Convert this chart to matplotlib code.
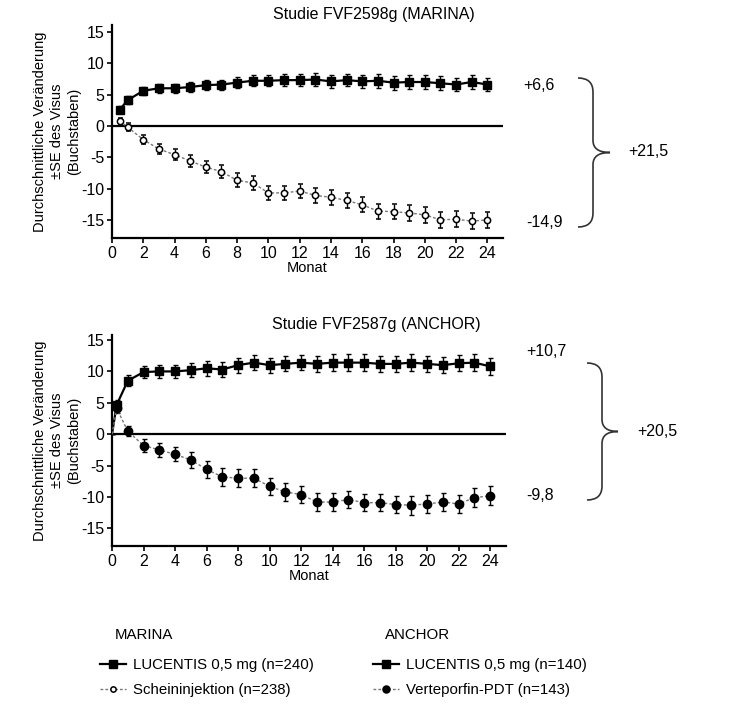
import numpy as np
import matplotlib.pyplot as plt
from matplotlib.path import Path
from matplotlib.patches import PathPatch
import matplotlib.transforms as mtransforms

plt.rcParams['font.family'] = ['Liberation Sans', 'DejaVu Sans']
plt.rcParams['axes.unicode_minus'] = False

# MARINA data (months, mean change in letters, SE)
marina_months = [0.5, 1] + list(range(2, 25))
marina_luc = [2.6, 4.1, 5.6, 6.0, 6.0, 6.2, 6.5, 6.6, 6.9, 7.2, 7.2, 7.3, 7.3,
              7.4, 7.1, 7.3, 7.1, 7.2, 6.9, 7.0, 7.0, 6.8, 6.6, 7.0, 6.6]
marina_luc_se = [0.5, 0.6, 0.6, 0.7, 0.7, 0.8, 0.8, 0.8, 0.9, 0.9, 0.9, 1.0, 1.0,
                 1.0, 1.0, 1.0, 1.0, 1.1, 1.1, 1.1, 1.1, 1.1, 1.1, 1.1, 1.1]
marina_sham = [0.8, -0.2, -2.2, -3.7, -4.6, -5.6, -6.6, -7.3, -8.7, -9.1, -10.7, -10.7, -10.4,
               -11.1, -11.4, -11.9, -12.6, -13.6, -13.7, -13.9, -14.2, -15.0, -14.9, -15.2, -15.0]
marina_sham_se = [0.5, 0.6, 0.7, 0.8, 0.9, 0.9, 1.0, 1.0, 1.1, 1.1, 1.1, 1.1, 1.1,
                  1.2, 1.2, 1.2, 1.2, 1.2, 1.2, 1.3, 1.3, 1.3, 1.3, 1.3, 1.3]

# ANCHOR data (starts at baseline 0)
anchor_months = [0, 0.3, 1] + list(range(2, 25))
anchor_luc = [0, 4.7, 8.5, 9.9, 10.0, 10.0, 10.2, 10.5, 10.3, 11.0, 11.4, 11.0, 11.2, 11.4,
              11.2, 11.4, 11.4, 11.4, 11.2, 11.2, 11.4, 11.2, 11.0, 11.3, 11.4, 10.8]
anchor_luc_se = [0, 0.8, 0.9, 1.0, 1.1, 1.1, 1.1, 1.2, 1.2, 1.2, 1.2, 1.2, 1.2, 1.2,
                 1.3, 1.3, 1.3, 1.3, 1.3, 1.3, 1.3, 1.3, 1.3, 1.3, 1.3, 1.4]
anchor_pdt = [0, 4.1, 0.5, -1.8, -2.5, -3.2, -4.1, -5.6, -6.8, -7.0, -7.0, -8.3, -9.2, -9.6,
              -10.8, -10.8, -10.4, -10.9, -10.9, -11.2, -11.3, -11.1, -10.8, -11.1, -10.1, -9.8]
anchor_pdt_se = [0, 0.7, 0.8, 1.0, 1.1, 1.1, 1.2, 1.3, 1.4, 1.4, 1.4, 1.4, 1.4, 1.4,
                 1.4, 1.4, 1.4, 1.4, 1.4, 1.4, 1.5, 1.5, 1.5, 1.5, 1.5, 1.5]

W, H = 733, 707
fig = plt.figure(figsize=(W / 100, H / 100), dpi=100)

# pixel coords (origin top-left) -> figure
px = mtransforms.Affine2D().scale(1 / W, -1 / H).translate(0, 1) + fig.transFigure

ax1 = fig.add_axes([112 / W, 1 - 238 / H, 391 / W, 213 / H])
ax2 = fig.add_axes([112 / W, 1 - 546 / H, 394 / W, 211 / H])

ylabel = 'Durchschnittliche Veränderung\n±SE des Visus\n(Buchstaben)'


def style_axes(ax, title, ylim):
    ax.axhline(0, color='black', lw=1.6, zorder=1)
    ax.set_xlim(0, 25)
    ax.set_ylim(*ylim)
    ax.set_xticks(range(0, 25, 2))
    ax.set_yticks([-15, -10, -5, 0, 5, 10, 15])
    ax.spines['top'].set_visible(False)
    ax.spines['right'].set_visible(False)
    for s in ('left', 'bottom'):
        ax.spines[s].set_linewidth(1.6)
    ax.tick_params(axis='both', labelsize=11.5, length=3.5, width=1.2, pad=2)
    ax.set_xlabel('Monat', fontsize=10.5, labelpad=0)
    ax.set_ylabel(ylabel, fontsize=10.5, linespacing=1.3)
    ax.yaxis.set_label_coords(-0.078, 0.5)
    ax.set_title(title, fontsize=11.5, loc='center', x=0.67, pad=4)


luc_kw = dict(color='black', lw=1.6, marker='s', ms=6.3, ecolor='black',
              elinewidth=1, capsize=1.8, capthick=1, zorder=3)

# MARINA
m_luc = ax1.errorbar(marina_months, marina_luc, yerr=marina_luc_se, **luc_kw)
m_sham = ax1.errorbar(marina_months, marina_sham, yerr=marina_sham_se,
                      color='#777777', lw=1, ls=(0, (2, 1.5)), marker='o', ms=4.5,
                      mfc='white', mec='black', mew=1.1, ecolor='black',
                      elinewidth=1, capsize=1.8, capthick=1, zorder=3)
style_axes(ax1, 'Studie FVF2598g (MARINA)', (-17.9, 16.1))

# ANCHOR
a_luc = ax2.errorbar(anchor_months, anchor_luc, yerr=anchor_luc_se,
                     markevery=slice(1, None), **luc_kw)
a_pdt = ax2.errorbar(anchor_months, anchor_pdt, yerr=anchor_pdt_se,
                     color='#777777', lw=1, ls=(0, (2, 1.5)), marker='o', ms=6,
                     mfc='black', mec='black', ecolor='black', markevery=slice(1, None),
                     elinewidth=1, capsize=1.8, capthick=1, zorder=3)
style_axes(ax2, 'Studie FVF2587g (ANCHOR)', (-17.8, 15.8))

# end values
ax1.text(26.3, 6.5, '+6,6', fontsize=11.5, va='center', clip_on=False)
ax1.text(26.5, -15.5, '-14,9', fontsize=11.5, va='center', clip_on=False)
ax2.text(26.3, 13.1, '+10,7', fontsize=11.5, va='center', clip_on=False)
ax2.text(26.3, -9.7, '-9,8', fontsize=11.5, va='center', clip_on=False)


def brace(x0, xv, xt, ytop, ybot, lw=1.2):
    ym = (ytop + ybot) / 2
    r = 14
    verts = [(x0, ytop), (xv, ytop), (xv, ytop + r),
             (xv, ym - 12), (xv, ym), (xt, ym),
             (xv, ym), (xv, ym + 12),
             (xv, ybot - r), (xv, ybot), (x0, ybot)]
    codes = [Path.MOVETO, Path.CURVE3, Path.CURVE3,
             Path.LINETO, Path.CURVE3, Path.CURVE3,
             Path.CURVE3, Path.CURVE3,
             Path.LINETO, Path.CURVE3, Path.CURVE3]
    fig.add_artist(PathPatch(Path(verts, codes), transform=px, fill=False,
                             lw=lw, edgecolor='#333333'))


brace(578, 593, 610, 78, 227)
brace(587, 602, 618, 363, 500)
fig.text(628 / W, 1 - 152 / H, '+21,5', fontsize=11.5, va='center')
fig.text(637 / W, 1 - 432 / H, '+20,5', fontsize=11.5, va='center')

# legends
fig.text(115 / W, 1 - 635 / H, 'MARINA', fontsize=10.8, va='center')
fig.text(385 / W, 1 - 635 / H, 'ANCHOR', fontsize=10.8, va='center')
leg_kw = dict(loc='upper left', frameon=False, fontsize=10.8, handlelength=1.7,
              handletextpad=0.5, labelspacing=0.75, borderpad=0, borderaxespad=0,
              markerscale=0.85)
fig.legend([m_luc[0], m_sham[0]], ['LUCENTIS 0,5 mg (n=240)', 'Scheininjektion (n=238)'],
           bbox_to_anchor=(100 / W, 1 - 658 / H), **leg_kw)
fig.legend([a_luc[0], a_pdt[0]], ['LUCENTIS 0,5 mg (n=140)', 'Verteporfin-PDT (n=143)'],
           bbox_to_anchor=(373 / W, 1 - 658 / H), **leg_kw)

fig.savefig('out.png', dpi=100)
